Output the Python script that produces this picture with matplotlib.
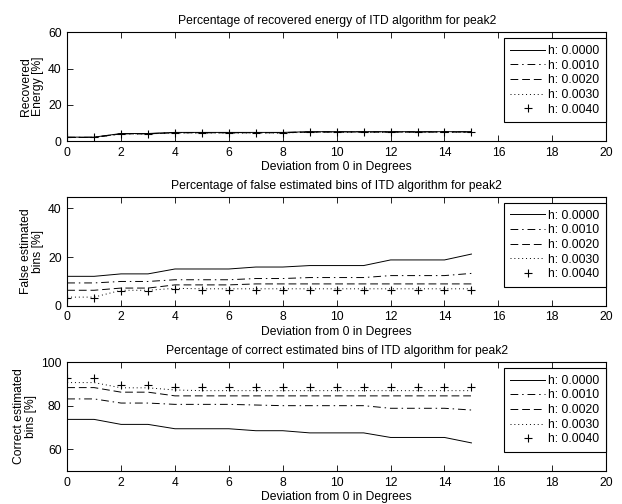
import matplotlib
matplotlib.use("Agg")
import matplotlib.pyplot as plt
import numpy as np

plt.rcParams['font.family'] = ['Liberation Sans', 'DejaVu Sans']

# deviation from 0 in degrees
deg = np.arange(0, 16)
h_labels = ["h: 0.0000", "h: 0.0010", "h: 0.0020", "h: 0.0030", "h: 0.0040"]

# recovered energy [%]
energy_h0 = [2.2, 2.2, 4.2, 4.2, 4.8, 4.8, 4.8, 4.8, 4.8, 5.2, 5.2, 5.2, 5.2, 5.2, 5.2, 5.2]
energy_h1 = [2.1, 2.1, 4.1, 4.1, 4.7, 4.7, 4.7, 4.7, 4.7, 5.1, 5.1, 5.1, 5.1, 5.1, 5.1, 5.1]
energy_h2 = [2.0, 2.0, 4.0, 4.0, 4.6, 4.6, 4.6, 4.6, 4.6, 5.0, 5.0, 5.0, 5.0, 5.0, 5.0, 5.0]
energy_h3 = [2.0, 2.0, 4.0, 4.0, 4.5, 4.5, 4.5, 4.5, 4.5, 4.9, 4.9, 4.9, 4.9, 4.9, 4.9, 4.9]
energy_h4 = [2.0, 2.0, 4.0, 4.0, 4.5, 4.5, 4.5, 4.5, 4.5, 4.9, 4.9, 4.9, 4.9, 4.9, 4.9, 4.9]

# false estimated bins [%]
false_h0 = [12.1, 12.1, 13.1, 13.1, 15.1, 15.1, 15.1, 15.9, 15.9, 16.5, 16.5, 16.5, 18.8, 18.8, 18.8, 21.2]
false_h1 = [9.4, 9.4, 10.0, 10.0, 10.7, 10.7, 10.7, 11.2, 11.2, 11.6, 11.6, 11.6, 12.4, 12.4, 12.4, 13.3]
false_h2 = [6.4, 6.4, 7.3, 7.3, 8.6, 8.6, 8.6, 9.0, 9.0, 9.0, 9.0, 9.0, 9.0, 9.0, 9.0, 9.0]
false_h3 = [3.6, 3.6, 6.4, 6.4, 7.2, 7.0, 7.0, 7.0, 7.0, 7.0, 7.0, 7.0, 7.0, 7.0, 7.0, 7.0]
false_h4 = [3.3, 3.3, 6.1, 6.1, 6.9, 6.7, 6.7, 6.7, 6.7, 6.7, 6.7, 6.7, 6.7, 6.7, 6.7, 6.7]

# correct estimated bins [%]
correct_h0 = [73.7, 73.7, 71.4, 71.4, 69.4, 69.4, 69.4, 68.5, 68.5, 67.5, 67.5, 67.5, 65.4, 65.4, 65.4, 62.9]
correct_h1 = [83.1, 83.1, 81.2, 81.2, 80.6, 80.6, 80.6, 80.3, 80.0, 80.0, 80.0, 80.0, 78.8, 78.8, 78.8, 78.0]
correct_h2 = [88.3, 88.3, 86.2, 86.2, 84.5, 84.5, 84.5, 84.5, 84.5, 84.5, 84.5, 84.5, 84.5, 84.5, 84.5, 84.5]
correct_h3 = [90.6, 90.6, 88.2, 88.2, 87.2, 86.9, 86.9, 86.9, 86.9, 86.9, 86.9, 86.9, 86.9, 86.9, 86.9, 86.9]
correct_h4 = [92.8, 92.8, 89.7, 89.7, 88.6, 88.6, 88.6, 88.6, 88.6, 88.6, 88.6, 88.6, 88.6, 88.6, 88.6, 88.6]

panels = [
    ("Percentage of recovered energy of ITD algorithm for peak2", "Recovered\nEnergy [%]",
     [energy_h0, energy_h1, energy_h2, energy_h3, energy_h4], (0, 60), [0, 20, 40, 60]),
    ("Percentage of false estimated bins of ITD algorithm for peak2", "False estimated\nbins [%]",
     [false_h0, false_h1, false_h2, false_h3, false_h4], (0, 44.5), [0, 20, 40]),
    ("Percentage of correct estimated bins of ITD algorithm for peak2", "Correct estimated\nbins [%]",
     [correct_h0, correct_h1, correct_h2, correct_h3, correct_h4], (50, 100), [60, 80, 100]),
]

styles = [
    dict(linestyle='-'),
    dict(linestyle=(0, (8, 4, 1.5, 4))),
    dict(linestyle=(0, (8, 4))),
    dict(linestyle=(0, (1, 3))),
    dict(linestyle='none', marker='+', markersize=5.5, markeredgewidth=0.8),
]

fs = 8.7
fig = plt.figure(figsize=(6.22, 5.04), dpi=100)
bottoms = [0.720, 0.393, 0.0655]

for (title, ylab, series, ylim, yticks), b in zip(panels, bottoms):
    ax = fig.add_axes([0.108, b, 0.8666, 0.216])
    for vals, lab, st in zip(series, h_labels, styles):
        ax.plot(deg, vals, color='black', linewidth=0.7, label=lab, **st)
    ax.set_xlim(0, 20)
    ax.set_ylim(*ylim)
    ax.set_xticks(range(0, 21, 2))
    ax.set_yticks(yticks)
    ax.tick_params(direction='in', top=True, right=True, labelsize=fs, length=4, width=0.6, pad=4)
    for sp in ax.spines.values():
        sp.set_linewidth(0.8)
    ax.set_title(title, fontsize=fs, pad=6)
    ax.set_xlabel("Deviation from 0 in Degrees", fontsize=fs, labelpad=2)
    ax.set_ylabel(ylab, fontsize=fs, linespacing=1.0, labelpad=3)
    leg = ax.legend(loc='upper right', bbox_to_anchor=(1.0, 1 - 6 / 109), borderaxespad=0,
                    fontsize=fs, handlelength=2.9, handletextpad=0.25, numpoints=1,
                    fancybox=False, framealpha=1, edgecolor='black', labelspacing=0.22,
                    borderpad=0.55)
    leg.get_frame().set_linewidth(0.8)

fig.savefig("out.png", dpi=100)
